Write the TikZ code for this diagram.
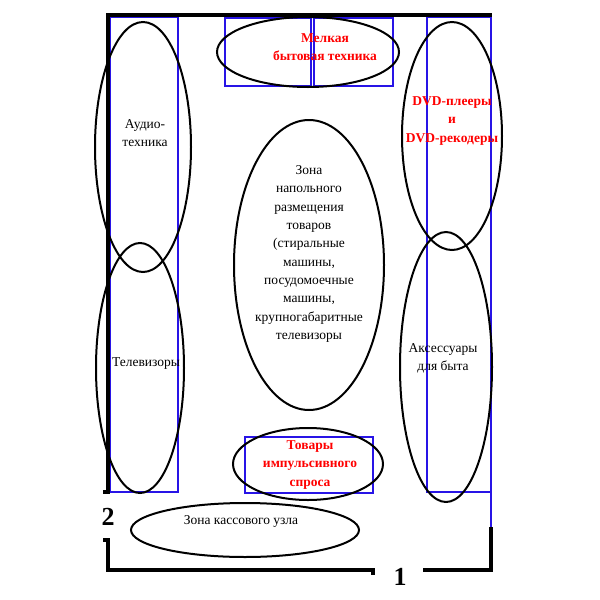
\documentclass[tikz,border=0pt]{standalone}
\usepackage{fontspec}
\setmainfont{Liberation Serif}
\definecolor{shelfblue}{RGB}{40,20,230}
\tikzset{
  wall/.style={line width=3.4pt},
  zone/.style={line width=2pt},
  shelf/.style={draw=shelfblue,line width=1.9pt},
  lbl/.style={align=center,inner sep=0pt,font=\fontsize{13.5}{18.3}\selectfont},
  hot/.style={lbl,text=red,font=\fontsize{13.5}{18.3}\selectfont\bfseries},
  num/.style={inner sep=0pt,font=\fontsize{26}{26}\selectfont\bfseries}
}

\begin{document}
\begin{tikzpicture}[x=1pt,y=-1pt]
  \useasboundingbox (0,0) rectangle (600,600);
  % shelves
  \draw[shelf] (110,17) rectangle (178,492);
  \draw[shelf] (225,18) rectangle (311,86);
  \draw[shelf] (314,18) rectangle (393,86);
  \draw[shelf] (427,17) rectangle (491,492);
  \draw[shelf] (491,492) -- (491,527);
  \draw[shelf] (245,437) rectangle (373,493);
  % walls
  \draw[wall] (103,492) -| (108,15) -- (492,15);
  \draw[wall] (103,540) -| (108,570) -- (373,570) -- (373,575);
  \draw[wall] (423,570) -| (491,527);
  % zones
  \draw[zone] (143,147) ellipse (48 and 125);
  \draw[zone] (140,368) ellipse (44 and 125);
  \draw[zone] (308,52) ellipse (91 and 35);
  \draw[zone] (452,136) ellipse (50 and 114);
  \draw[zone] (446,367) ellipse (46 and 135);
  \draw[zone] (309,265) ellipse (75 and 145);
  \draw[zone] (308,464) ellipse (75 and 36);
  \draw[zone] (245,530) ellipse (114 and 27);
  % labels
  \node[lbl] (audio) at (145,133) {Аудио-\\техника};
  \node[hot] (small) at (325,47) {Мелкая\\бытовая техника};
  \node[hot] (dvd) at (452,121) {DVD-плееры\\и\\DVD-рекодеры};
  \node[lbl] (floor) at (309,254) {Зона\\напольного\\размещения\\товаров\\(стиральные\\машины,\\посудомоечные\\машины,\\крупногабаритные\\телевизоры};
  \node[lbl] (tv) at (146,364) {Телевизоры};
  \node[lbl] (acc) at (443,358) {Аксессуары\\для быта};
  \node[hot] (impulse) at (310,465) {Товары\\импульсивного\\спроса};
  \node[lbl] (cash) at (241,521) {Зона кассового узла};
  \node[num] (two) at (108,517) {2};
  \node[num] (one) at (400,577) {1};
\end{tikzpicture}
\end{document}
